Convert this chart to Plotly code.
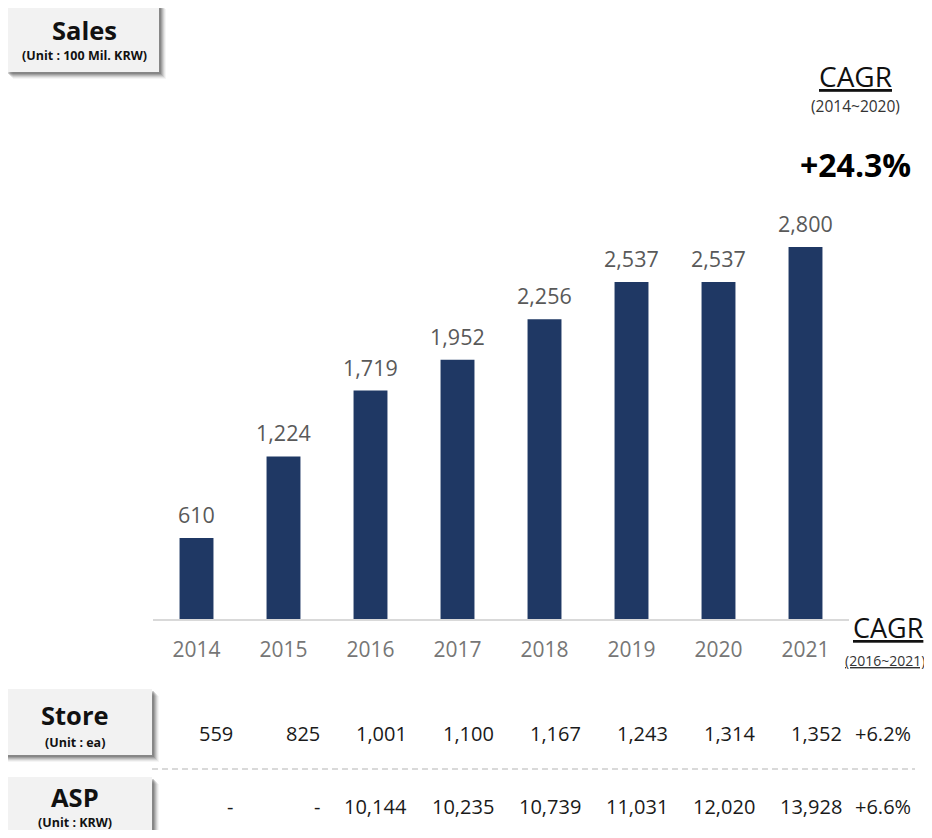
import plotly.graph_objects as go

years = ["2014", "2015", "2016", "2017", "2018", "2019", "2020", "2021"]
sales = [610, 1224, 1719, 1952, 2256, 2537, 2537, 2800]
stores = [559, 825, 1001, 1100, 1167, 1243, 1314, 1352]
asp = [None, None, 10144, 10235, 10739, 11031, 12020, 13928]
sales_cagr = "+24.3%"
store_cagr = "+6.2%"
asp_cagr = "+6.6%"

# page body has an 8px margin; work in reference-page pixels and offset
OFF = 8
W, H = 932 - OFF, 838 - 2 * OFF
PW, PH = 696, 419
L, T = 153 - OFF, 200 - OFF
R, B = W - L - PW, H - T - PH
FONT = "Open Sans"


def px(x):
    return (x - OFF - L) / PW


def py(y):
    return (T + PH - (y - OFF)) / PH


fig = go.Figure()
fig.add_trace(go.Bar(
    x=years, y=sales, marker=dict(color="#1f3864", line=dict(width=0)),
    hoverinfo="skip",
))

ann = []
# data labels
for i, v in enumerate(sales):
    ann.append(dict(x=i, y=v, xref="x", yref="y", text=f"{v:,}", showarrow=False,
                    yanchor="bottom", yshift=7,
                    font=dict(family=FONT, size=21.5, color="#595959")))


def fmt(v):
    return "-" if v is None else f"{v:,}"


# table rows
for i, (s, a) in enumerate(zip(stores, asp)):
    ann.append(dict(x=i, y=py(733), xref="x", yref="paper", text=fmt(s), showarrow=False,
                    xanchor="right", xshift=38, yanchor="middle",
                    font=dict(family=FONT, size=20, color="#1a1a1a")))
    ann.append(dict(x=i, y=py(806), xref="x", yref="paper", text=fmt(a), showarrow=False,
                    xanchor="right", xshift=38, yanchor="middle",
                    font=dict(family=FONT, size=20, color="#1a1a1a")))
for txt, yy in [(store_cagr, 733), (asp_cagr, 806)]:
    ann.append(dict(x=px(913), y=py(yy), xref="paper", yref="paper", text=txt, showarrow=False,
                    xanchor="right", yanchor="middle",
                    font=dict(family=FONT, size=20, color="#1a1a1a")))

# CAGR labels
ann += [
    dict(x=px(855), y=py(76), xref="paper", yref="paper", text="<u>CAGR</u>", showarrow=False,
         xanchor="center", yanchor="middle", font=dict(family=FONT, size=28, color="#111")),
    dict(x=px(855), y=py(106), xref="paper", yref="paper", text="(2014~2020)", showarrow=False,
         xanchor="center", yanchor="middle", font=dict(family=FONT, size=15.5, color="#333")),
    dict(x=px(855), y=py(165), xref="paper", yref="paper", text="<b>" + sales_cagr + "</b>", showarrow=False,
         xanchor="center", yanchor="middle", font=dict(family=FONT, size=32, color="#000")),
    dict(x=px(851), y=py(627), xref="paper", yref="paper", text="<u>CAGR</u>", showarrow=False,
         xanchor="left", yanchor="middle", font=dict(family=FONT, size=27, color="#111")),
    dict(x=px(843), y=py(660), xref="paper", yref="paper", text="<u>(2016~2021)</u>", showarrow=False,
         xanchor="left", yanchor="middle", font=dict(family=FONT, size=14, color="#333")),
]

shapes = []


def box(x0, y0, x1, y1, title, unit, ty, uy, cx, tsize=25.5, usize=12.5):
    for off, op in [(7, 0.05), (6, 0.08), (5, 0.12), (4, 0.16), (3, 0.2), (2, 0.24)]:
        shapes.append(dict(type="rect", xref="paper", yref="paper",
                           x0=px(x0 + off), x1=px(x1 + off), y0=py(y0 + off), y1=py(y1 + off),
                           fillcolor=f"rgba(60,60,60,{op})", line=dict(width=0), layer="above"))
    shapes.append(dict(type="rect", xref="paper", yref="paper",
                       x0=px(x0), x1=px(x1), y0=py(y0), y1=py(y1),
                       fillcolor="#f2f2f2", line=dict(width=0), layer="above"))
    ann.append(dict(x=px(cx), y=py(ty), xref="paper", yref="paper", text="<b>" + title + "</b>",
                    showarrow=False, xanchor="center", yanchor="middle",
                    font=dict(family=FONT, size=tsize, color="#111")))
    ann.append(dict(x=px(cx), y=py(uy), xref="paper", yref="paper", text="<b>" + unit + "</b>",
                    showarrow=False, xanchor="center", yanchor="middle",
                    font=dict(family=FONT, size=usize, color="#111")))


box(6, 2, 159, 72, "Sales", "(Unit : 100 Mil. KRW)", 30, 55, 84, usize=12.5)
box(-10, 689, 152, 755, "Store", "(Unit : ea)", 715, 742, 75)
box(-10, 777, 152, 850, "ASP", "(Unit : KRW)", 797, 822, 75)

# dashed separator
shapes.append(dict(type="line", xref="paper", yref="paper", x0=px(152), x1=px(915),
                   y0=py(769), y1=py(769), line=dict(color="#d9d9d9", width=2, dash="6px,4px"),
                   layer="below"))

fig.update_layout(
    width=W, height=H, autosize=False,
    margin=dict(l=L, r=R, t=T, b=B, pad=0),
    paper_bgcolor="white", plot_bgcolor="white",
    showlegend=False, bargap=0.61,
    font=dict(family=FONT),
    xaxis=dict(type="category", range=[-0.5, 7.5], showgrid=False, zeroline=False,
               showline=True, linecolor="#d9d9d9", linewidth=2, ticks="",
               tickfont=dict(family=FONT, size=21, color="#767676"), ticklabelstandoff=11,
               fixedrange=True),
    yaxis=dict(range=[0, PH / (372 / 2800)], visible=False, fixedrange=True),
    annotations=ann, shapes=shapes,
)

fig.write_html("out.html")
